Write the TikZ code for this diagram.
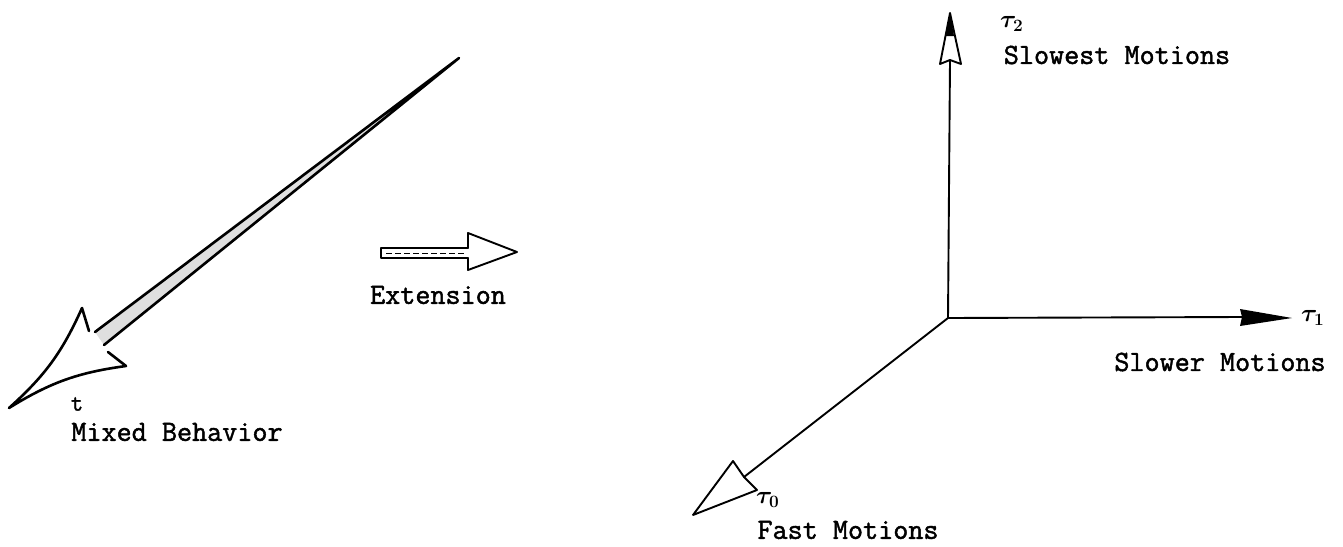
\documentclass[tikz,border=0pt]{standalone}
\usepackage{amsmath}
\usepackage{fontspec}
\newfontfamily\tw[FakeBold=1.6]{Latin Modern Mono}
\begin{document}
\begin{tikzpicture}[x=1pt,y=-1pt,
  lbl/.style={inner sep=0pt,font=\tw\fontsize{29.3}{32}\selectfont},
  sym/.style={inner sep=0pt,font=\fontsize{25}{27}\selectfont},
  ln/.style={line width=2.6pt,line cap=round,line join=round},
  thin/.style={line width=1.9pt,line cap=round,line join=round}]
\useasboundingbox (0,0) rectangle (1343,546);
% ---------- left: mixed behaviour ----------
\coordinate (ltop) at (459,58);
\coordinate (ls1) at (95,332);
\coordinate (ls2) at (104,345);
\coordinate (ltip) at (9,408);
\coordinate (lub) at (82,308);
\coordinate (lun) at (89,331);
\coordinate (lln) at (108,352);
\coordinate (llb) at (126,366);
\fill[gray!25] (ltop) -- (ls1) -- (ls2) -- cycle;
\draw[ln] (ls1) -- (ltop) -- (ls2);
\draw[ln] (lun) -- (lub) to[bend left=12] (ltip) to[bend left=12] (llb) -- (lln);
\node[inner sep=0pt,font=\tw\fontsize{24}{26}\selectfont] (t) at (77,404) {t};
\node[lbl] (mixed) at (177,432) {Mixed Behavior};
% ---------- extension arrow ----------
\coordinate (es) at (381,248);
\coordinate (eb) at (381,258);
\coordinate (ehs) at (468,248);
\coordinate (ehb) at (468,258);
\coordinate (eht) at (468,233);
\coordinate (ehd) at (468,270);
\coordinate (etip) at (517,252);
\draw[thin] (ehs) -- (es) -- (eb) -- (ehb);
\draw[thin] (ehs) -- (eht) -- (etip) -- (ehd) -- (ehb);
\draw[line width=1pt,dash pattern=on 6pt off 3pt] (386,253) -- (466,253);
\node[lbl] (ext) at (438,295) {Extension};
% ---------- right: three time scales ----------
\coordinate (o) at (948,318);
% tau2 axis
\coordinate (v2b) at (950,60);
\coordinate (v2tip) at (950,13);
\coordinate (v2l) at (940,64);
\coordinate (v2r) at (961,64);
\draw[thin] (o) -- (v2b);
\draw[thin] (v2tip) -- (v2l) -- (v2b) -- (v2r) -- cycle;
\fill (v2tip) -- (946,36) -- (954,36) -- cycle;
\node[sym,anchor=west] (tau2) at (1000,24) {$\boldsymbol{\tau_{2}}$};
\node[lbl] (slowest) at (1117,55) {Slowest Motions};
% tau1 axis
\coordinate (h1b) at (1242,317);
\coordinate (h1tip) at (1292,318);
\coordinate (h1u) at (1240,309);
\coordinate (h1d) at (1240,326);
\draw[thin] (o) -- (h1b);
\fill (h1tip) -- (h1u) -- (h1b) -- (h1d) -- cycle;
\node[sym,anchor=west] (tau1) at (1301,318) {$\boldsymbol{\tau_{1}}$};
\node[lbl] (slower) at (1220,362) {Slower Motions};
% tau0 axis
\coordinate (d0b) at (744,477);
\coordinate (d0tip) at (693,515);
\coordinate (d0u) at (733,461);
\coordinate (d0d) at (757,490);
\draw[thin] (o) -- (d0b);
\draw[thin] (d0b) -- (d0u) -- (d0tip) -- (d0d) -- cycle;
\node[sym,anchor=west] (tau0) at (756,500) {$\boldsymbol{\tau_{0}}$};
\node[lbl] (fast) at (848,530) {Fast Motions};
\end{tikzpicture}
\end{document}
